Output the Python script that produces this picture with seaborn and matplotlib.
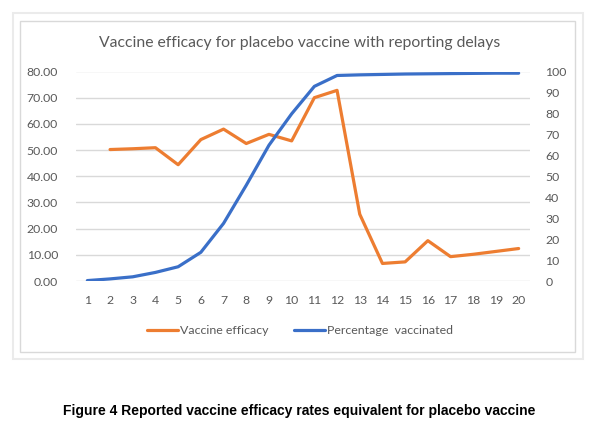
import numpy as np
import pandas as pd
import matplotlib
matplotlib.use("Agg")
import matplotlib.pyplot as plt
import matplotlib.patches as mpatches
import seaborn as sns

# ---- data ----
weeks = list(range(1, 21))
efficacy_weeks = list(range(2, 21))
vaccine_efficacy = [50.2, 50.5, 50.9, 44.4, 54.0, 58.0, 52.5, 56.0, 53.5,
                    70.0, 72.8, 25.5, 6.7, 7.3, 15.4, 9.3, 10.2, 11.3, 12.4]
pct_vaccinated = [0.2, 1.0, 2.0, 4.1, 6.8, 13.7, 27.5, 45.7, 64.8, 79.8,
                  92.9, 98.1, 98.4, 98.6, 98.8, 98.9, 99.0, 99.1, 99.2, 99.2]
left_ticks = [0, 10, 20, 30, 40, 50, 60, 70, 80]
right_ticks = [0, 10, 20, 30, 40, 50, 60, 70, 80, 90, 100]

title = "Vaccine efficacy for placebo vaccine with reporting delays"
caption = "Figure 4 Reported vaccine efficacy rates equivalent for placebo vaccine"
label_eff = "Vaccine efficacy"
label_pct = "Percentage  vaccinated"

ORANGE = "#ED7D31"
BLUE = "#3A6FC8"
GREY_TXT = "#595959"
GRID = "#D9D9D9"

sns.set_theme(style="white")
plt.rcParams["font.family"] = ["Lato", "DejaVu Sans"]

df_eff = pd.DataFrame({"week": efficacy_weeks, "value": vaccine_efficacy})
df_pct = pd.DataFrame({"week": weeks, "value": pct_vaccinated})

W, H = 598, 430
fig = plt.figure(figsize=(W / 100, H / 100), dpi=100)

# frames (outer soft shadow + inner chart area border)
fig.patches.append(mpatches.Rectangle((12.5 / W, 1 - 359 / H), (583 - 12.5) / W, (359 - 12.5) / H,
                                      transform=fig.transFigure, facecolor="white",
                                      edgecolor="#EBEBEB", linewidth=1.5, zorder=-10))
fig.patches.append(mpatches.Rectangle((20 / W, 1 - 352 / H), (575 - 20) / W, (352 - 20.5) / H,
                                      transform=fig.transFigure, facecolor="white",
                                      edgecolor="#D9D9D9", linewidth=1.0, zorder=-9))

ax = fig.add_axes([76 / W, 1 - 281 / H, (530 - 76) / W, (281 - 71.5) / H])
ax.patch.set_alpha(0)
ax2 = ax.twinx()
ax2.patch.set_alpha(0)
ax.set_zorder(2)
ax2.set_zorder(3)

sns.lineplot(data=df_eff, x="week", y="value", ax=ax, color=ORANGE, linewidth=2.3,
             label=label_eff, legend=False)
sns.lineplot(data=df_pct, x="week", y="value", ax=ax2, color=BLUE, linewidth=2.3,
             label=label_pct, legend=False)

ax.set_xlim(0.5, 20.5)
ax.set_ylim(0, 80)
ax2.set_ylim(0, 100)
ax.set_yticks(left_ticks)
ax.set_yticklabels([f"{v:.2f}" for v in left_ticks])
ax2.set_yticks(right_ticks)
ax2.set_yticklabels([str(v) for v in right_ticks])
ax.set_xticks(weeks)
ax.set_xticklabels([str(w) for w in weeks])

ax.grid(axis="y", color=GRID, linewidth=1.0)
ax.set_axisbelow(True)
for a in (ax, ax2):
    for s in a.spines.values():
        s.set_visible(False)
    a.set_xlabel("")
    a.set_ylabel("")

ax.tick_params(axis="y", length=0, pad=13, labelsize=8.8, labelcolor=GREY_TXT)
ax2.tick_params(axis="y", length=0, pad=11, labelsize=8.8, labelcolor=GREY_TXT)
ax.tick_params(axis="x", length=0, pad=10, labelsize=8.8, labelcolor=GREY_TXT)

fig.text(300 / W, 1 - 43 / H, title, ha="center", va="center", fontsize=11.3, color=GREY_TXT)

# legend
h1 = plt.Line2D([], [], color=ORANGE, linewidth=2.3)
h2 = plt.Line2D([], [], color=BLUE, linewidth=2.3)
fig.legend([h1, h2], [label_eff, label_pct], loc="center", bbox_to_anchor=(300 / W, 1 - 331 / H),
           ncol=2, frameon=False, fontsize=8.9, labelcolor=GREY_TXT, handlelength=2.5,
           handletextpad=0.2, columnspacing=2.0)

fig.text(299 / W, 1 - 411 / H, caption, ha="center", va="center", fontsize=10.0,
         fontweight="bold", family=["Liberation Sans", "DejaVu Sans"], color="black")

fig.savefig("out.png", dpi=100)
